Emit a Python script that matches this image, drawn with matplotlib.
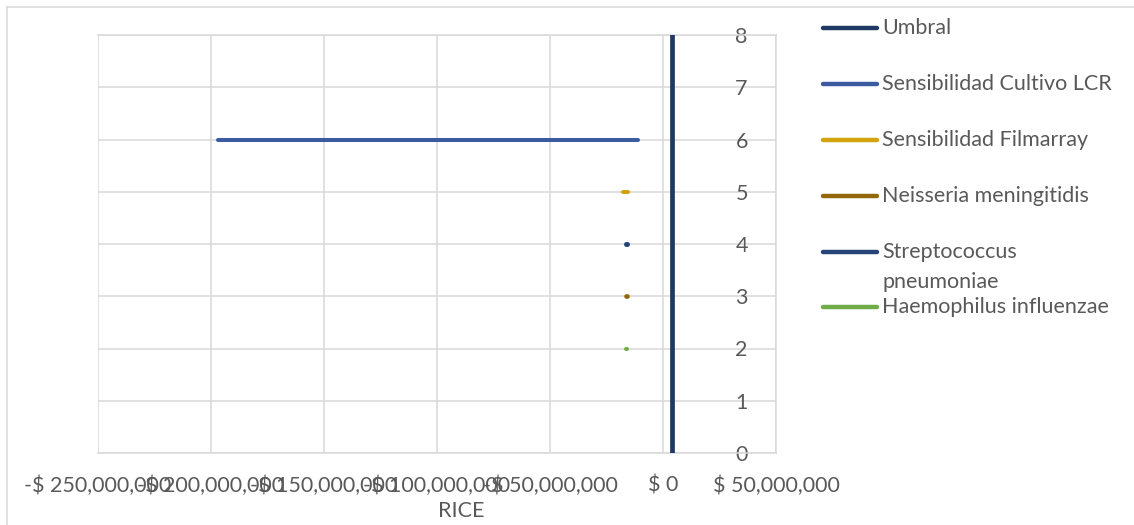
import matplotlib.pyplot as plt
from matplotlib.lines import Line2D

# series: name, x start/end (RICE, $), y level
series_names = ['Umbral', 'Sensibilidad Cultivo LCR', 'Sensibilidad Filmarray',
                'Neisseria meningitidis', 'Streptococcus\npneumoniae',
                'Haemophilus influenzae']
x_start = [3.8e6, -197e6, -17.9e6, -16.2e6, -16.2e6, -16.2e6]
x_end = [3.8e6, -11e6, -15.3e6, -16.0e6, -16.0e6, -16.0e6]
y_start = [0, 6, 5, 3, 4, 2]
y_end = [8, 6, 5, 3, 4, 2]
colors = ['#1F3864', '#3A5BA0', '#D4A20C', '#94680A', '#264478', '#70AD47']
widths = [3.4, 2.9, 2.9, 3.4, 3.6, 2.9]

x_ticks = [-250e6, -200e6, -150e6, -100e6, -50e6, 0, 50e6]
x_tick_labels = ['-$ 250,000,000', '-$ 200,000,000', '-$ 150,000,000',
                 '-$ 100,000,000', '-$ 50,000,000', '$ 0', '$ 50,000,000']
y_ticks = [0, 1, 2, 3, 4, 5, 6, 7, 8]

plt.rcParams['font.family'] = ['Lato', 'DejaVu Sans']
TXT = '#595959'
GRID = '#D9D9D9'
FS = 15.5

W, H = 1134, 525
fig = plt.figure(figsize=(W / 100, H / 100), dpi=100)
ax = fig.add_axes([98 / W, 72 / H, (776 - 98) / W, (453 - 35) / H])

for i in range(len(series_names)):
    ax.plot([x_start[i], x_end[i]], [y_start[i], y_end[i]], color=colors[i],
            lw=widths[i], solid_capstyle='round', zorder=3)

ax.set_xlim(-250e6, 50e6)
ax.set_ylim(0, 8)
ax.set_xticks(x_ticks)
ax.set_xticklabels(x_tick_labels)
ax.set_yticks(y_ticks)
ax.grid(True, color=GRID, lw=1.1, zorder=0)
ax.tick_params(axis='both', length=0, labelsize=FS, labelcolor=TXT)
ax.tick_params(axis='x', pad=16)
ax.tick_params(axis='y', pad=4)

# vertical axis crosses near the right of the plot, as in the source
ax.spines['left'].set_position(('data', 40e6))
ax.spines['left'].set_color('none')
for s in ['top', 'right', 'bottom']:
    ax.spines[s].set_color(GRID)
    ax.spines[s].set_linewidth(1.1)

fig.text(461 / W, 1 - 511 / H, 'RICE', ha='center', va='center',
         fontsize=FS, color=TXT)

# legend drawn by hand to keep the spacing of the source
legend_y = [28, 84, 140, 196, 252, 307]
for i, name in enumerate(series_names):
    yy = 1 - legend_y[i] / H
    fig.add_artist(Line2D([823 / W, 877 / W], [yy, yy], color=colors[i],
                          lw=3.2, solid_capstyle='round',
                          transform=fig.transFigure))
    for j, part in enumerate(name.split('\n')):
        fig.text(882 / W, yy - j * 30 / H, part, ha='left', va='center',
                 fontsize=FS, color=TXT)

# chart frame (only the top and left edges show)
fig.add_artist(Line2D([7 / W, 1], [1 - 7 / H, 1 - 7 / H], color=GRID, lw=1.1))
fig.add_artist(Line2D([7 / W, 7 / W], [0, 1 - 7 / H], color=GRID, lw=1.1))

fig.savefig('out.png', dpi=100)
